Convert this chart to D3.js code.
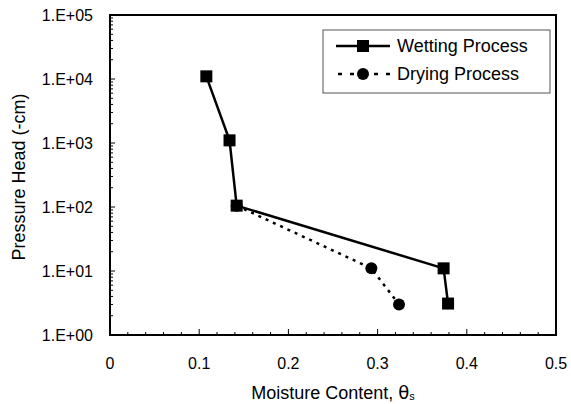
<!DOCTYPE html>
<html>
<head>
<meta charset="utf-8">
<script src="https://cdn.jsdelivr.net/npm/d3@7"></script>
<style>
  body { margin: 0; background: #fff; }
  svg { display: block; font-family: "Liberation Sans", Arial, sans-serif; }
</style>
</head>
<body>
<div id="chart"></div>
<script>
// data
const wettingTheta = [0.108, 0.134, 0.142, 0.374, 0.379];
const wettingHead = [11000, 1100, 105, 11, 3.1];
const dryingTheta = [0.142, 0.293, 0.324];
const dryingHead = [105, 11, 3.0];
const xTicks = [0, 0.1, 0.2, 0.3, 0.4, 0.5];
const yTicks = [1, 10, 100, 1000, 10000, 100000];
const yTickLabels = ['1.E+00', '1.E+01', '1.E+02', '1.E+03', '1.E+04', '1.E+05'];

const width = 571, height = 404;
const margin = {top: 15, right: 15, bottom: 69, left: 110};
const w = width - margin.left - margin.right;
const h = height - margin.top - margin.bottom;

const svg = d3.select('#chart').append('svg')
  .attr('width', width)
  .attr('height', height);
const g = svg.append('g')
  .attr('transform', `translate(${margin.left},${margin.top})`);

const x = d3.scaleLinear().domain([0, 0.5]).range([0, w]);
const y = d3.scaleLog().domain([1, 100000]).range([h, 0]);

// frame
g.append('rect')
  .attr('width', w).attr('height', h)
  .attr('fill', 'none').attr('stroke', '#000').attr('stroke-width', 2);

// x ticks (inside), minor every 0.02
const xMinor = d3.range(0, 0.5001, 0.02);
g.selectAll('.xminor').data(xMinor).join('line')
  .attr('x1', d => x(d)).attr('x2', d => x(d))
  .attr('y1', h).attr('y2', (d, i) => i % 5 === 0 ? h - 6 : h - 3)
  .attr('stroke', '#000').attr('stroke-width', 1);

g.selectAll('.xlab').data(xTicks).join('text')
  .attr('x', d => x(d)).attr('y', h + 34)
  .attr('text-anchor', 'middle')
  .attr('font-size', 16)
  .text(d => d);

// y ticks (inside), minor 2..9 per decade
const yMinor = [];
for (let e = 0; e < 5; e++) {
  for (let k = 2; k <= 9; k++) yMinor.push(k * Math.pow(10, e));
}
g.selectAll('.yminor').data(yMinor).join('line')
  .attr('x1', 0).attr('x2', 3)
  .attr('y1', d => y(d)).attr('y2', d => y(d))
  .attr('stroke', '#000').attr('stroke-width', 1);
g.selectAll('.ymajor').data(yTicks).join('line')
  .attr('x1', 0).attr('x2', 5)
  .attr('y1', d => y(d)).attr('y2', d => y(d))
  .attr('stroke', '#000').attr('stroke-width', 1);

g.selectAll('.ylab').data(yTicks).join('text')
  .attr('x', -17).attr('y', d => y(d))
  .attr('dy', '0.35em')
  .attr('text-anchor', 'end')
  .attr('font-size', 16)
  .text((d, i) => yTickLabels[i]);

// axis titles
svg.append('text')
  .attr('transform', `translate(25,${margin.top + h / 2 + 2}) rotate(-90)`)
  .attr('text-anchor', 'middle')
  .attr('font-size', 18)
  .text('Pressure Head (-cm)');

const xt = svg.append('text')
  .attr('x', margin.left + w / 2).attr('y', 399)
  .attr('text-anchor', 'middle')
  .attr('font-size', 18)
  .text('Moisture Content, ');
xt.append('tspan').attr('font-family', 'DejaVu Sans').text('θ');
xt.append('tspan').attr('font-size', 11).attr('dy', 1).text('s');

// series
const line = d3.line().x(d => x(d[0])).y(d => y(d[1]));
const drying = dryingTheta.map((d, i) => [d, dryingHead[i]]);
const wetting = wettingTheta.map((d, i) => [d, wettingHead[i]]);

g.append('path').datum(drying)
  .attr('d', line)
  .attr('fill', 'none').attr('stroke', '#000')
  .attr('stroke-width', 2.5).attr('stroke-dasharray', '3,5');
g.selectAll('.dpt').data(drying).join('circle')
  .attr('cx', d => x(d[0])).attr('cy', d => y(d[1]))
  .attr('r', 6).attr('fill', '#000');

g.append('path').datum(wetting)
  .attr('d', line)
  .attr('fill', 'none').attr('stroke', '#000')
  .attr('stroke-width', 2.5);
g.selectAll('.wpt').data(wetting).join('rect')
  .attr('x', d => x(d[0]) - 6).attr('y', d => y(d[1]) - 6)
  .attr('width', 12).attr('height', 12)
  .attr('fill', '#000');

// legend
const lg = svg.append('g').attr('transform', 'translate(323,30)');
lg.append('rect')
  .attr('width', 227).attr('height', 63)
  .attr('fill', '#fff').attr('stroke', '#555').attr('stroke-width', 1);

lg.append('line')
  .attr('x1', 13).attr('x2', 67).attr('y1', 16).attr('y2', 16)
  .attr('stroke', '#000').attr('stroke-width', 2.5);
lg.append('rect')
  .attr('x', 34).attr('y', 10).attr('width', 12).attr('height', 12)
  .attr('fill', '#000');
lg.append('text')
  .attr('x', 74).attr('y', 16).attr('dy', '0.35em')
  .attr('font-size', 18)
  .text('Wetting Process');

lg.append('line')
  .attr('x1', 15).attr('x2', 68).attr('y1', 44).attr('y2', 44)
  .attr('stroke', '#000').attr('stroke-width', 2.5)
  .attr('stroke-dasharray', '4,8');
lg.append('circle')
  .attr('cx', 40).attr('cy', 44).attr('r', 6)
  .attr('fill', '#000');
lg.append('text')
  .attr('x', 74).attr('y', 44).attr('dy', '0.35em')
  .attr('font-size', 18)
  .text('Drying Process');
</script>
</body>
</html>
